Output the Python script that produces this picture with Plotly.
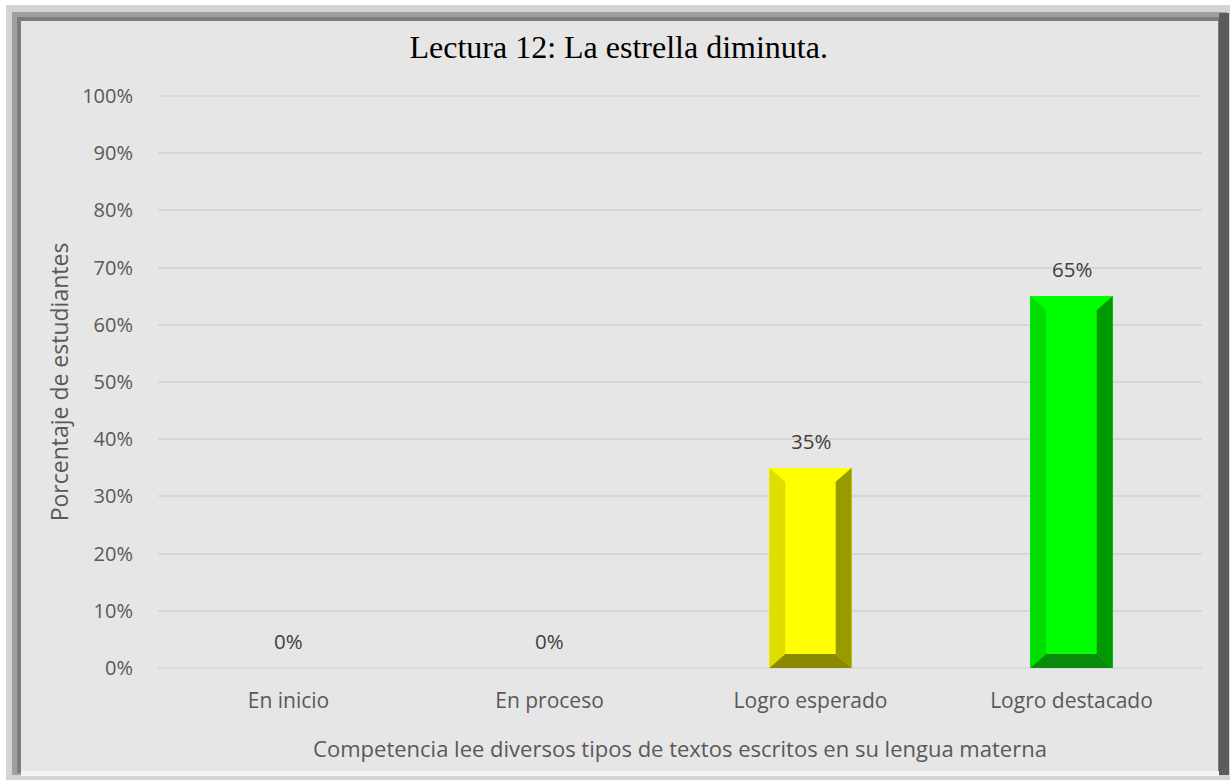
import plotly.graph_objects as go

# ---- data ----
categories = ["En inicio", "En proceso", "Logro esperado", "Logro destacado"]
values = [0, 0, 35, 65]
labels = ["0%", "0%", "35%", "65%"]
y_ticks = [0, 10, 20, 30, 40, 50, 60, 70, 80, 90, 100]
y_tick_labels = ["0%", "10%", "20%", "30%", "40%", "50%", "60%", "70%", "80%", "90%", "100%"]
title_text = "Lectura 12: La estrella diminuta."
x_title = "Competencia lee diversos tipos de textos escritos en su lengua materna"
y_title = "Porcentaje de estudiantes"

# styles
face = ["#ffff00", "#ffff00", "#ffff00", "#00ff00"]
left_c = ["#dede00", "#dede00", "#dede00", "#00dd00"]
right_c = ["#999900", "#999900", "#999900", "#009900"]
bottom_c = ["#8a8a00", "#8a8a00", "#8a8a00", "#0a8a0a"]

W, H = 1230, 780
L, R, T, B = 158, 28, 96, 112
PW, PH = W - L - R, H - T - B
BAR_W = 0.315
BEV_X = 0.061
BEV_Y = 2.45
FONT = "Open Sans"
GRID = "#d6d6d6"

def px_x(px):
    return (px - L) / PW

def px_y(py):
    return (H - B - py) / PH

fig = go.Figure()
fig.add_trace(go.Bar(
    x=list(range(len(categories))), y=values, width=BAR_W,
    marker=dict(color=face, line=dict(width=0)),
    hoverinfo="skip",
))

shapes = []
# chart frame
def prect(x0, y0, x1, y1, color):
    shapes.append(dict(type="rect", xref="paper", yref="paper",
                       x0=px_x(x0), x1=px_x(x1), y0=px_y(y1), y1=px_y(y0),
                       fillcolor=color, line=dict(width=0), layer="below"))

prect(6, 5, 1230, 780, "#d4d4d4")
prect(12, 12, 1227, 775, "#a0a0a0")
prect(17, 17, 1222, 773, "#7c7c7c")
prect(1219, 13, 1229, 775, "#5c5c5c")
prect(21, 771, 1219, 776, "#f4f4f4")
prect(21, 21, 1218, 771, "#e6e6e6")

# gridlines at the range ends (plotly skips them at the plot edge)
for yp in (0, 1):
    shapes.append(dict(type="line", xref="paper", yref="paper", x0=0, x1=1, y0=yp, y1=yp,
                       line=dict(color=GRID, width=1.5), layer="below"))

# bevels on bars (data coordinates)
for i, v in enumerate(values):
    if v <= 0:
        continue
    x0, x1 = i - BAR_W / 2, i + BAR_W / 2
    xi0, xi1 = x0 + BEV_X, x1 - BEV_X
    yi0, yi1 = BEV_Y, v - BEV_Y
    shapes.append(dict(type="path", xref="x", yref="y",
                       path=f"M {x0} 0 L {x0} {v} L {xi0} {yi1} L {xi0} {yi0} Z",
                       fillcolor=left_c[i], line=dict(width=0)))
    shapes.append(dict(type="path", xref="x", yref="y",
                       path=f"M {x1} 0 L {x1} {v} L {xi1} {yi1} L {xi1} {yi0} Z",
                       fillcolor=right_c[i], line=dict(width=0)))
    shapes.append(dict(type="path", xref="x", yref="y",
                       path=f"M {x0} 0 L {x1} 0 L {xi1} {yi0} L {xi0} {yi0} Z",
                       fillcolor=bottom_c[i], line=dict(width=0)))

annotations = []
for i, (v, t) in enumerate(zip(values, labels)):
    annotations.append(dict(x=i, y=v, xref="x", yref="y", text=t, showarrow=False,
                            yanchor="bottom", yshift=11,
                            font=dict(family=FONT, size=20.5, color="#404040")))

fig.update_layout(
    width=W, height=H,
    margin=dict(l=L, r=R, t=T, b=B, pad=0),
    paper_bgcolor="#ffffff",
    plot_bgcolor="rgba(0,0,0,0)",
    showlegend=False,
    bargap=0,
    shapes=shapes,
    annotations=annotations,
    title=dict(text=title_text, x=0.503, xref="container", xanchor="center",
               y=1 - 47 / H, yref="container", yanchor="middle",
               font=dict(family="Liberation Serif", size=32, color="#000000")),
    xaxis=dict(
        tickmode="array", tickvals=list(range(len(categories))), ticktext=categories,
        range=[-0.5, len(categories) - 0.5],
        showgrid=False, zeroline=False, showline=False,
        ticks="outside", ticklen=14, tickcolor="rgba(0,0,0,0)",
        tickfont=dict(family=FONT, size=21, color="#595959"),
        title=dict(text=x_title, standoff=28,
                   font=dict(family=FONT, size=22, color="#595959")),
    ),
    yaxis=dict(
        range=[0, 100], tickmode="array", tickvals=y_ticks, ticktext=y_tick_labels,
        showgrid=True, gridcolor=GRID, gridwidth=1.5,
        zeroline=False, showline=False,
        ticks="outside", ticklen=20, tickcolor="rgba(0,0,0,0)",
        tickfont=dict(family=FONT, size=20, color="#595959"),
        title=dict(text=y_title, standoff=7,
                   font=dict(family=FONT, size=23, color="#595959")),
    ),
)

fig.write_html("out.html", config={"displayModeBar": False},
               post_script="document.body.style.margin='0';document.body.style.overflow='hidden';")
